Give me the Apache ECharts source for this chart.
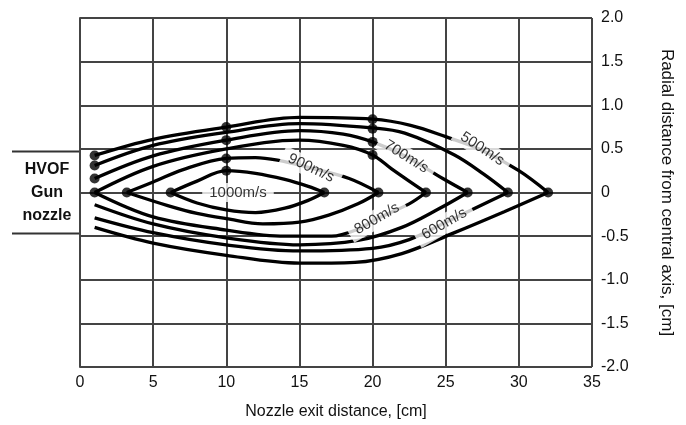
<!DOCTYPE html>
<html>
<head>
<meta charset="utf-8">
<script src="https://cdn.jsdelivr.net/npm/echarts@6/dist/echarts.min.js"></script>
<style>html,body{margin:0;padding:0;background:#fff;}#c{width:686px;height:425px;}</style>
</head>
<body>
<div id="c"></div>
<script>
// ---- data ----
const xTicks = [0, 5, 10, 15, 20, 25, 30, 35];
const yTicks = [-2.0, -1.5, -1.0, -0.5, 0, 0.5, 1.0, 1.5, 2.0];
const velocityLabels = ['1000m/s', '900m/s', '800m/s', '700m/s', '600m/s', '500m/s'];

// upper / lower branches of each isovelocity contour [x cm, r cm]
const up1000 = [[6.2,0],[8,0.13],[10,0.25],[12,0.22],[14,0.15],[15.6,0.07],[16.7,0]];
const lo1000 = [[6.2,0],[8,-0.12],[10,-0.2],[12,-0.23],[14,-0.18],[15.6,-0.09],[16.7,0]];
const up900  = [[3.2,0],[5,0.12],[7,0.26],[10,0.39],[12,0.4],[13.5,0.37],[15.8,0.28],[18.4,0.16],[20.4,0]];
const lo900  = [[3.2,0],[6,-0.15],[8,-0.24],[10,-0.3],[12.5,-0.36],[15,-0.34],[17,-0.26],[19,-0.13],[20.4,0]];
const up800  = [[1,0],[5,0.3],[10,0.5],[15,0.6],[18,0.54],[20,0.43],[21.3,0.27],[22.5,0.13],[23.65,0]];
const lo800  = [[1,0],[5,-0.28],[10,-0.43],[14,-0.5],[17.2,-0.5],[19,-0.42],[20.3,-0.3],[22.5,-0.13],[23.65,0]];
const up700  = [[1,0.16],[5,0.42],[10,0.6],[15,0.71],[18,0.67],[20,0.58],[22.3,0.41],[24.8,0.16],[26.5,0]];
const lo700  = [[1,-0.14],[5,-0.36],[10,-0.52],[15,-0.6],[19,-0.55],[22,-0.4],[24.5,-0.19],[26.5,0]];
const up600  = [[1,0.31],[5,0.54],[10,0.69],[15,0.79],[20,0.74],[22.2,0.68],[25.6,0.43],[27.6,0.21],[29.25,0]];
const lo600  = [[1,-0.29],[5,-0.46],[10,-0.6],[15,-0.67],[20,-0.64],[22.5,-0.54],[24.9,-0.35],[27.25,-0.16],[29.25,0]];
const up500  = [[1,0.425],[5,0.61],[10,0.75],[15,0.86],[20,0.84],[22.6,0.77],[25,0.64],[27.4,0.49],[30,0.25],[32,0]];
const lo500  = [[1,-0.4],[5,-0.58],[10,-0.72],[15,-0.81],[18.8,-0.8],[22,-0.7],[25.6,-0.46],[29,-0.22],[32,0]];

// measured points (dots)
const dots = [[1,0.425],[1,0.31],[1,0.16],[1,0],[3.2,0],[6.2,0],
  [10,0.75],[10,0.6],[10,0.39],[10,0.25],
  [20,0.84],[20,0.73],[20,0.58],[20,0.43],
  [16.7,0],[20.4,0],[23.65,0],[26.5,0],[29.25,0],[32,0]];

// label anchor positions (data coords) and their text angle
const labelX = [10.8, 15.8, 20.3, 22.3, 24.9, 27.5];
const labelY = [0, 0.28, -0.3, 0.41, -0.36, 0.5];
const labelAngle = [0, -25, 30, -32, 30, -33];

const nozzleRadius = 0.47;

// ---- chart ----
const FONT = 'Liberation Sans, Arial, Helvetica, sans-serif';
const chart = echarts.init(document.getElementById('c'));
const curves = [up1000, lo1000, up900, lo900, up800, lo800, up700, lo700, up600, lo600, up500, lo500];

const series = curves.map(d => ({
  type: 'line', data: d, smooth: 0.35, symbol: 'none', z: 3,
  lineStyle: { color: '#000', width: 3.3 }, silent: true
}));
series.push({
  type: 'scatter', data: dots, symbolSize: 10, z: 4,
  itemStyle: { color: '#000' }, silent: true
});
series.push({
  type: 'scatter', z: 10, symbolSize: 0, silent: true,
  data: velocityLabels.map((t, i) => ({
    value: [labelX[i], labelY[i]], name: t,
    label: { rotate: labelAngle[i] }
  })),
  label: {
    show: true, position: 'inside', formatter: p => p.name,
    fontFamily: FONT, fontSize: 15, color: '#000',
    backgroundColor: '#fff', padding: [2, 7]
  }
});

chart.setOption({
  animation: false,
  grid: { left: 80, right: 94, top: 18, bottom: 53, show: false },
  xAxis: {
    type: 'value', min: xTicks[0], max: xTicks[xTicks.length - 1], interval: 5,
    name: 'Nozzle exit distance, [cm]', nameLocation: 'middle', nameGap: 37,
    nameTextStyle: { fontFamily: FONT, fontSize: 16, color: '#111' },
    axisLine: { show: true, lineStyle: { color: '#444', width: 2 } },
    axisTick: { show: false },
    axisLabel: { fontFamily: FONT, fontSize: 16, color: '#111', margin: 8 },
    splitLine: { show: true, lineStyle: { color: '#444', width: 2 } }
  },
  yAxis: {
    type: 'value', position: 'right', min: yTicks[0], max: yTicks[yTicks.length - 1], interval: 0.5,
    name: 'Radial distance from central axis, [cm]', nameLocation: 'middle', nameGap: 66, nameRotate: -90,
    nameTextStyle: { fontFamily: FONT, fontSize: 17, color: '#111' },
    axisLine: { show: true, lineStyle: { color: '#444', width: 2 } },
    axisTick: { show: false },
    axisLabel: { fontFamily: FONT, fontSize: 16, color: '#111', margin: 9,
      formatter: v => v === 0 ? '0' : v.toFixed(1) },
    splitLine: { show: true, lineStyle: { color: '#444', width: 2 } }
  },
  series: series
});

// nozzle annotation
const yTop = chart.convertToPixel({ yAxisIndex: 0 }, nozzleRadius);
const yBot = chart.convertToPixel({ yAxisIndex: 0 }, -nozzleRadius);
const yMid = chart.convertToPixel({ yAxisIndex: 0 }, 0);
const xLeft = chart.convertToPixel({ xAxisIndex: 0 }, 0);
chart.setOption({
  graphic: [
    { type: 'line', shape: { x1: 12, y1: yTop, x2: xLeft, y2: yTop }, style: { stroke: '#333', lineWidth: 2 } },
    { type: 'line', shape: { x1: 12, y1: yBot, x2: xLeft, y2: yBot }, style: { stroke: '#333', lineWidth: 2 } },
    { type: 'text', x: 47, y: yMid - 23, style: { text: 'HVOF', font: 'bold 16px ' + FONT, fill: '#111', align: 'center', verticalAlign: 'middle' } },
    { type: 'text', x: 47, y: yMid, style: { text: 'Gun', font: 'bold 16px ' + FONT, fill: '#111', align: 'center', verticalAlign: 'middle' } },
    { type: 'text', x: 47, y: yMid + 23, style: { text: 'nozzle', font: 'bold 16px ' + FONT, fill: '#111', align: 'center', verticalAlign: 'middle' } }
  ]
});
</script>
</body>
</html>
